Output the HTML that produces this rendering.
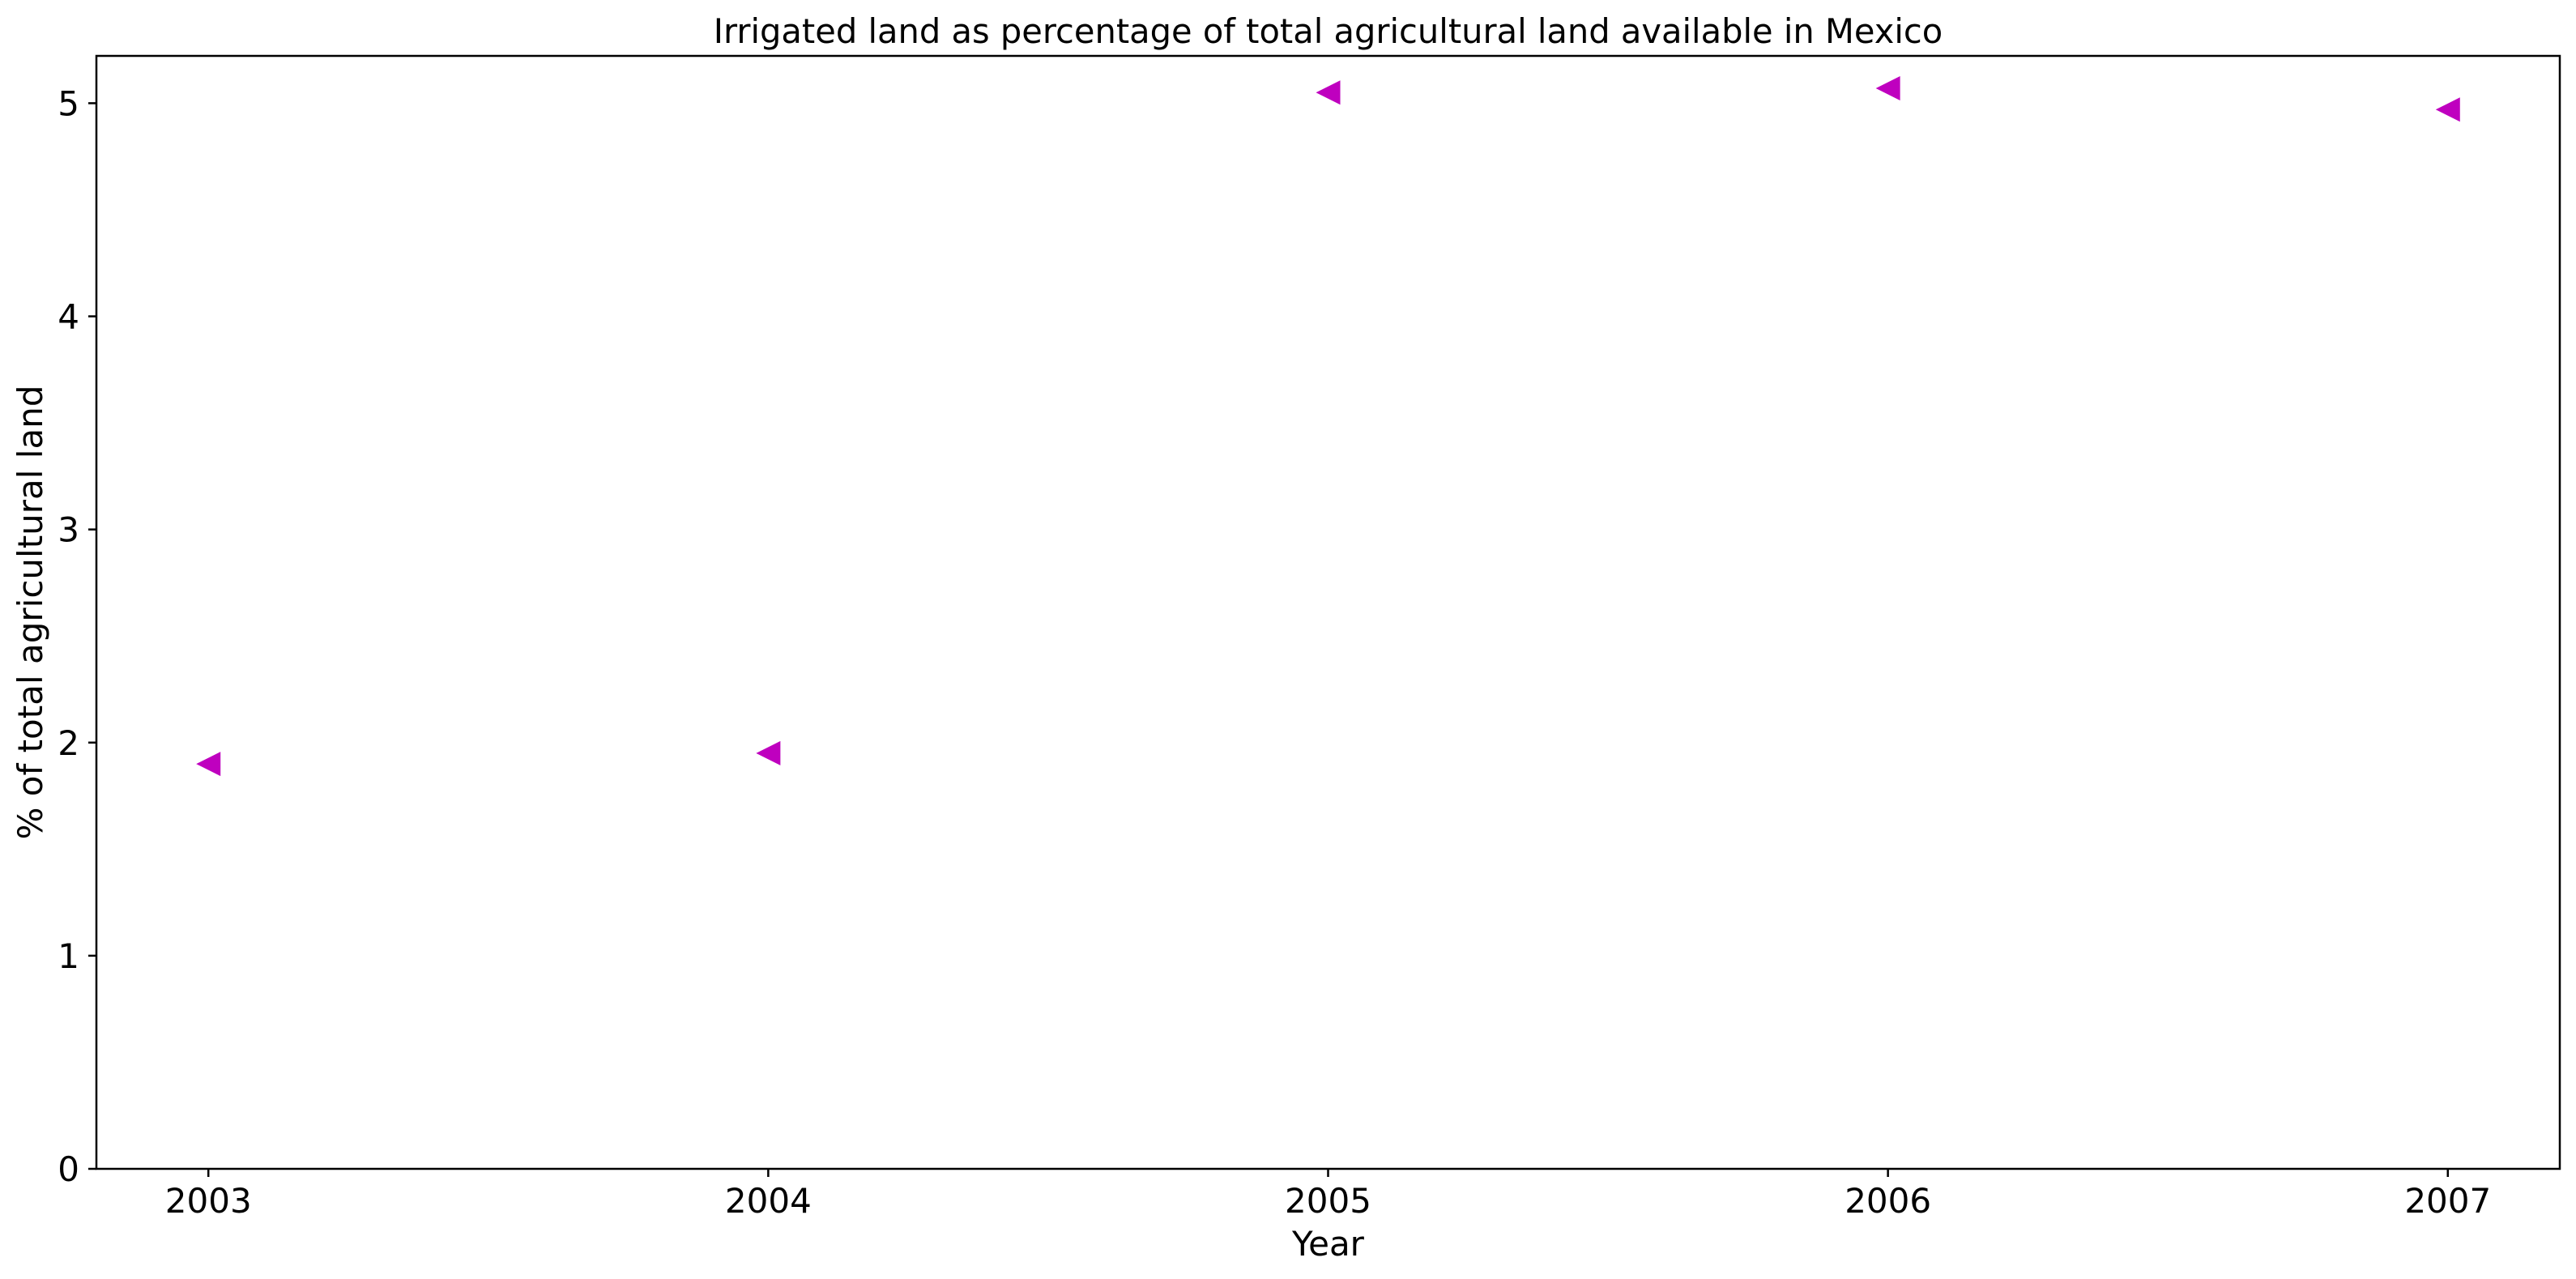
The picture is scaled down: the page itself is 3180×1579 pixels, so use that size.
<!DOCTYPE html>
<html><head><meta charset="utf-8"><style>
html,body{margin:0;padding:0;background:#fff;}
svg{display:block;font-family:"DejaVu Sans","Liberation Sans",sans-serif;}
</style></head><body>
<svg id="chart" width="3180" height="1579" viewBox="0 0 3180 1579" xmlns="http://www.w3.org/2000/svg">
<rect width="3180" height="1579" fill="#fff"/>
<text x="1639.5" y="53" font-size="41.6" text-anchor="middle">Irrigated land as percentage of total agricultural land available in Mexico</text>
<g id="ticks"></g>
<g id="marks"></g>
<rect x="119" y="69" width="3041" height="1374" fill="none" stroke="#000" stroke-width="2.5"/>
<text x="1639.5" y="1550" font-size="42" text-anchor="middle">Year</text>
<text x="0" y="0" transform="translate(52,756) rotate(-90)" font-size="42" text-anchor="middle">% of total agricultural land</text>
</svg>
<script>
const years = [2003, 2004, 2005, 2006, 2007];
const values = [1.90, 1.95, 5.05, 5.07, 4.97];
const yTicks = [0, 1, 2, 3, 4, 5];

const L = 119, R = 3160, T = 69, B = 1443;
const xMin = 2002.8, xMax = 2007.2, yMin = 0, yMax = 5.222;
function xs(v){ return L + (v - xMin) / (xMax - xMin) * (R - L); }
function ys(v){ return B - (v - yMin) / (yMax - yMin) * (B - T); }
const NS = "http://www.w3.org/2000/svg";
const tg = document.getElementById('ticks');
const mg = document.getElementById('marks');
function mk(tag, attrs){ const e = document.createElementNS(NS, tag); for (const k in attrs) e.setAttribute(k, attrs[k]); return e; }

years.forEach(function(yr){
  const x = xs(yr);
  const t = mk('line', {x1:x, x2:x, y1:B, y2:B+10, stroke:'#000', 'stroke-width':2.5});
  
  
  tg.appendChild(t);
  const lb = mk('text', {x:x, y:1497, 'font-size':42, 'text-anchor':'middle'});
  lb.textContent = String(yr);
  
  
  tg.appendChild(lb);
});
yTicks.forEach(function(v){
  const y = ys(v);
  const t = mk('line', {x1:L-10, x2:L, y1:y, y2:y, stroke:'#000', 'stroke-width':2.5});
  
  
  tg.appendChild(t);
  const lb = mk('text', {x:98, y:y+15, 'font-size':42, 'text-anchor':'end'});
  lb.textContent = String(v);
  
  
  tg.appendChild(lb);
});
years.forEach(function(yr, i){
  const cx = xs(yr), cy = ys(values[i]);
  const p = mk('polygon', {points:(cx-15)+','+cy+' '+(cx+15)+','+(cy-15)+' '+(cx+15)+','+(cy+15), fill:'#bf00bf'});
  
  
  mg.appendChild(p);
});
</script>
</body></html>
